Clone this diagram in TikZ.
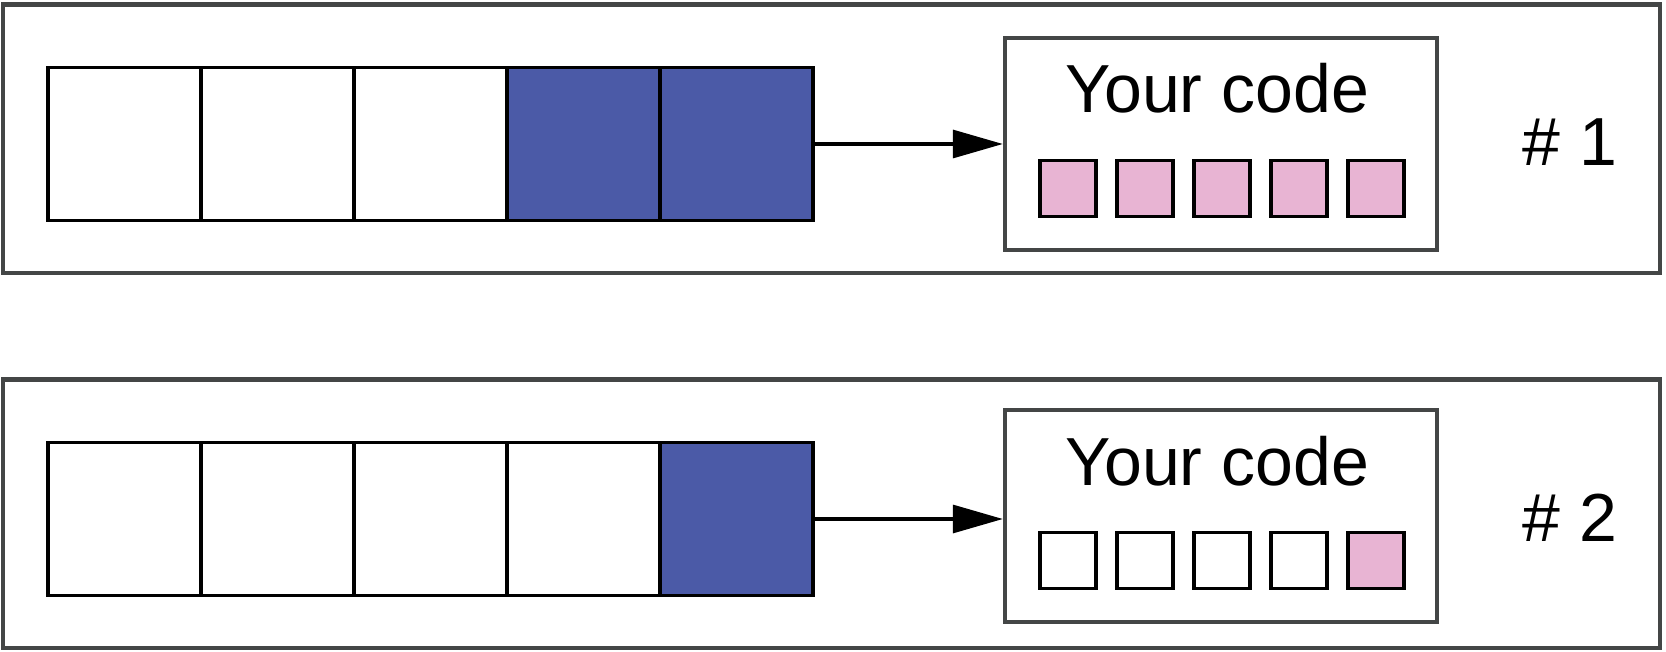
\documentclass[tikz,border=0pt]{standalone}
\usepackage{fontspec}
\setmainfont{Liberation Sans}
\usetikzlibrary{arrows.meta,positioning}
\definecolor{cellblue}{RGB}{75,90,167}
\definecolor{codepink}{RGB}{232,180,211}
\definecolor{framegray}{RGB}{68,70,70}

\begin{document}
\begin{tikzpicture}[x=0.5pt,y=-0.5pt,
    frame/.style={draw=framegray,line width=2.2pt},
    cell/.style={draw=black,line width=1.8pt,minimum size=76.5pt,inner sep=0pt},
    codebox/.style={draw=framegray,line width=2.2pt,minimum width=216pt,minimum height=106pt,inner sep=0pt},
    bit/.style={draw=black,line width=1.8pt,minimum size=28pt,inner sep=0pt},
    label/.style={font=\fontsize{34}{40}\selectfont,inner sep=0pt,anchor=base}]
    \useasboundingbox (0,0) rectangle (1666,652);
    %% one row per run: \r = run, \cy = row height, \cb = code box height, \nb = blue cells, \np = pink bits
    \foreach \r/\cy/\cb/\nb/\np in {1/144/144/2/5, 2/519/516/1/1}{
        \draw[frame] (3,\cy-139.5) rectangle (1660,\cy+129);
        \pgfmathtruncatemacro{\lim}{5-\nb}
        \foreach \i in {1,...,5}{ %cells of the input strip
            \ifnum\i>\lim \def\fc{cellblue}\else\def\fc{white}\fi
            \node[cell,fill=\fc] (cell\r-\i) at (124.5+153*\i-153,\cy) {};
        }
        \node[codebox] (code\r) at (1221,\cb) {};
        \node[label] (txt\r) at (1217,\cb-31) {Your code};
        \pgfmathtruncatemacro{\plim}{5-\np}
        \foreach \j in {1,...,5}{ %bits inside the code box
            \ifnum\j>\plim \def\bc{codepink}\else\def\bc{white}\fi
            \node[bit,fill=\bc] (bit\r-\j) at (1068+77*\j-77,\cb+44.5) {};
        }
        \node[label] (run\r) at (1570,\cy+22) {\# \r};
        \draw[line width=1.6pt,-{Triangle[length=25pt,width=14pt]}] (cell\r-5.east) -- (cell\r-5.east -| code\r.west);
    }
\end{tikzpicture}
\end{document}
